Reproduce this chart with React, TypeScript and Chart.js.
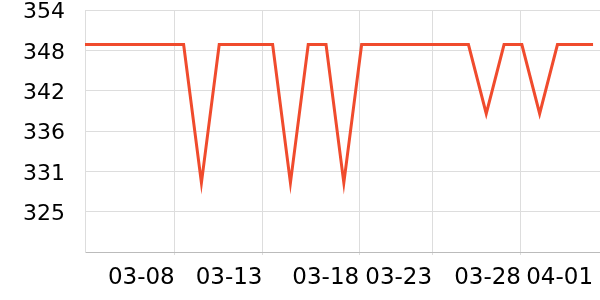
import React, { useEffect, useRef } from "react";
import { Chart, registerables } from "chart.js";

Chart.register(...registerables);

// Dates (one point per day), index = x value
const dates = [
  "03-03", "03-04", "03-05", "03-06", "03-07", "03-08", "03-09", "03-10", "03-11", "03-12",
  "03-13", "03-14", "03-15", "03-16", "03-17", "03-18", "03-19", "03-20", "03-21", "03-22",
  "03-23", "03-24", "03-25", "03-26", "03-27", "03-28", "03-29", "03-30", "03-31", "04-01",
];
const values = [
  349, 349, 349, 349, 349, 349, 349, 329, 349, 349,
  349, 349, 329, 349, 349, 329, 349, 349, 349, 349,
  349, 349, 349, 339, 349, 349, 339, 349, 349, 349,
];
// x-axis tick labels and where they sit (in day-index units)
const xTickLabels = ["03-08", "03-13", "03-18", "03-23", "03-28", "04-01"];
const xTickValues = [5.5, 10.43, 15.86, 19.96, 24.95, 29];
const xMin = 0.46;
const xMax = 29.39;
// y-axis
const yMin = 319;
const yMax = 354;
const yTickLabels = ["", "325", "331", "336", "342", "348", "354"];

export default function App() {
  const ref = useRef<HTMLCanvasElement>(null);
  useEffect(() => {
    document.body.style.margin = "0";
    const ctx = ref.current!;
    const chart = new Chart(ctx, {
      type: "line",
      data: {
        labels: dates,
        datasets: [
          {
            data: values.map((v, i) => ({ x: i, y: v })),
            borderColor: "#f04b2d",
            borderWidth: 3,
            pointRadius: 0,
            tension: 0,
            fill: false,
          },
        ],
      },
      options: {
        animation: false,
        responsive: false,
        maintainAspectRatio: false,
        layout: { padding: 0 },
        plugins: { legend: { display: false }, tooltip: { enabled: false } },
        scales: {
          x: {
            type: "linear",
            min: xMin,
            max: xMax,
            afterBuildTicks: (scale: any) => {
              scale.ticks = xTickValues.map((v) => ({ value: v }));
            },
            afterFit: (scale: any) => {
              scale.height = 48;
              scale.paddingLeft = 0;
              scale.paddingRight = 0;
            },
            grid: {
              color: (c: any) => (c.index === xTickLabels.length - 1 ? "rgba(0,0,0,0)" : "#dddddd"),
              tickLength: 3,
            },
            border: { color: "#bbbbbb" },
            ticks: {
              autoSkip: false,
              maxRotation: 0,
              align: "end",
              padding: 9,
              color: "#000",
              font: { family: "DejaVu Sans", size: 23 },
              callback: (_v: any, i: number) => xTickLabels[i],
            },
          },
          y: {
            min: yMin,
            max: yMax,
            afterBuildTicks: (scale: any) => {
              scale.ticks = yTickLabels.map((_, i) => ({
                value: yMin + ((yMax - yMin) * i) / (yTickLabels.length - 1),
              }));
            },
            afterFit: (scale: any) => {
              scale.width = 85;
              scale.paddingTop = 10;
              scale.paddingBottom = 0;
            },
            grid: { color: "#dddddd", drawTicks: false },
            border: { color: "#dddddd" },
            ticks: {
              padding: 20,
              labelOffset: 2.5,
              color: "#000",
              font: { family: "DejaVu Sans", size: 22 },
              callback: (_v: any, i: number) => yTickLabels[i],
            },
          },
        },
      },
    });
    return () => chart.destroy();
  }, []);
  return (
    <div style={{ width: 600, height: 300 }}>
      <canvas ref={ref} width={600} height={300} style={{ display: "block" }} />
    </div>
  );
}
